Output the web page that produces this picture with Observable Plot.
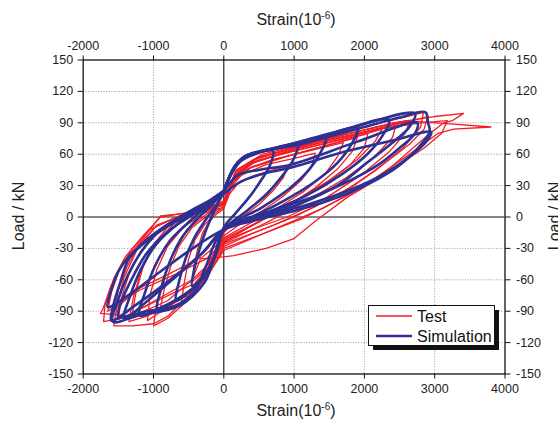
<!DOCTYPE html>
<html><head><meta charset="utf-8">
<script src="https://cdn.jsdelivr.net/npm/d3@7"></script>
<script src="https://cdn.jsdelivr.net/npm/@observablehq/plot@0.6"></script>
<style>
html,body{margin:0;padding:0;background:#fff;}
#chart{position:relative;width:558px;height:424px;overflow:hidden;}
</style></head><body><div id="chart"></div>
<script>
// ---- data ----
const xTicks = [-2000, -1000, 0, 1000, 2000, 3000, 4000];
const yTicks = [-150, -120, -90, -60, -30, 0, 30, 60, 90, 120, 150];
const seriesNames = ["Test", "Simulation"];
const xTitle = "Strain(10";
const xTitleSup = "-6";
const yTitle = "Load / kN";

// Test hysteresis loops: [strain (1e-6), load (kN)]
const testLoops = [
  [[0,8],[80,22],[200,32],[450,40],[700,45],[900,48],[850,38],[700,25],[500,12],[300,2],[100,-8],[0,-15],[-100,-28],[-200,-42],[-320,-54],[-450,-62],[-420,-45],[-370,-30],[-300,-15],[-200,-4],[-100,3],[0,8]],
  [[0,10],[100,28],[250,40],[600,50],[1000,56],[1300,61],[1250,48],[1100,35],[850,20],[550,6],[250,-6],[0,-18],[-120,-34],[-250,-52],[-420,-68],[-560,-82],[-600,-80],[-560,-62],[-500,-40],[-410,-22],[-280,-8],[-130,3],[0,10]],
  [[0,10],[120,32],[300,45],[700,55],[1200,63],[1700,71],[1620,58],[1450,42],[1150,25],[800,10],[400,-5],[0,-20],[-150,-40],[-300,-58],[-550,-75],[-860,-88],[-900,-86],[-850,-70],[-760,-48],[-640,-28],[-450,-10],[-220,2],[0,10]],
  [[0,12],[130,36],[350,50],[800,60],[1500,71],[2050,80],[2000,66],[1800,50],[1450,32],[1000,14],[500,-5],[0,-22],[-160,-42],[-350,-62],[-650,-80],[-1000,-95],[-1085,-99],[-1050,-75],[-950,-50],[-800,-28],[-580,-10],[-300,3],[0,12]],
  [[0,12],[140,38],[400,52],[1000,65],[1800,78],[2450,88],[2400,76],[2150,58],[1750,38],[1250,18],[650,-4],[0,-25],[-180,-46],[-400,-66],[-800,-85],[-1100,-95],[-1350,-100],[-1290,-78],[-1180,-52],[-1020,-28],[-780,-8],[-400,4],[0,12]],
  [[0,14],[150,40],[450,55],[1200,70],[2100,88],[2600,96],[2840,100],[2800,86],[2550,66],[2150,44],[1650,22],[1000,0],[400,-16],[0,-28],[-200,-50],[-500,-75],[-800,-95],[-1000,-102],[-1300,-104],[-1565,-104],[-1520,-85],[-1420,-58],[-1240,-32],[-960,-8],[-500,4],[0,14]],
  [[0,14],[160,42],[500,57],[1400,73],[2300,85],[2800,90],[3180,92],[3100,80],[2850,66],[2400,46],[1800,22],[1100,-2],[400,-20],[0,-30],[-220,-55],[-500,-75],[-1100,-92],[-1710,-100],[-1690,-84],[-1560,-58],[-1400,-38],[-1150,-18],[-900,0],[-450,5],[0,14]],
  [[0,15],[170,44],[520,58],[1500,75],[2400,90],[3000,96],[3410,99],[3250,92],[3130,90],[2900,78],[2370,47],[1990,28],[1760,19],[1300,-4],[990,-21],[600,-30],[140,-37],[0,-38],[-330,-40],[-450,-60],[-800,-80],[-1300,-95],[-1755,-92],[-1720,-88],[-1600,-65],[-1420,-42],[-1140,-20],[-900,1],[-475,4],[0,9]],
  [[0,16],[180,45],[550,60],[1600,77],[2600,92],[3000,90],[3225,89],[3800,86],[3270,84],[3050,80],[2600,58],[2000,30],[1400,8],[700,-12],[0,-32],[-250,-58],[-550,-82],[-800,-97],[-1000,-104],[-960,-85],[-870,-60],[-720,-35],[-520,-12],[-260,2],[0,16]],
  [[0,12],[150,36],[400,48],[1000,60],[1700,73],[2250,84],[2150,72],[1900,55],[1500,35],[1000,15],[500,-4],[0,-24],[-250,-40],[-700,-55],[-1200,-70],[-1650,-90],[-1600,-72],[-1480,-50],[-1300,-30],[-1050,-12],[-600,2],[0,12]],
  [[0,14],[160,40],[480,54],[1300,68],[2200,84],[2900,96],[2850,84],[2650,70],[2300,52],[1850,30],[1300,10],[700,-8],[0,-26],[-220,-48],[-420,-64],[-700,-72],[-1100,-85],[-1500,-98],[-1460,-78],[-1350,-55],[-1180,-33],[-900,-12],[-450,3],[0,14]],
  [[0,13],[150,38],[420,52],[1100,66],[1900,80],[2650,92],[2580,80],[2350,62],[1950,40],[1450,18],[900,0],[400,-12],[0,-23],[-200,-44],[-450,-60],[-850,-75],[-1300,-92],[-1250,-72],[-1150,-48],[-980,-25],[-700,-6],[-350,5],[0,13]],
  [[0,11],[140,34],[380,47],[900,58],[1400,67],[1900,76],[1830,63],[1620,46],[1300,28],[900,10],[450,-6],[0,-21],[-300,-38],[-800,-55],[-1200,-68],[-1550,-88],[-1500,-70],[-1380,-48],[-1200,-26],[-950,-8],[-550,3],[0,11]]
];

// Simulation hysteresis loops: [strain (1e-6), load (kN)]
const simLoops = [
  [[0,24],[100,40],[220,52],[400,59],[700,63],[660,50],[540,36],[350,18],[160,3],[0,-10],[-80,-28],[-170,-44],[-280,-56],[-450,-66],[-420,-50],[-350,-32],[-250,-12],[-120,8],[0,24]],
  [[0,25],[120,43],[260,55],[500,62],[800,66],[1050,69],[990,55],[840,40],[610,22],[330,6],[0,-12],[-100,-31],[-200,-48],[-330,-61],[-500,-72],[-680,-80],[-630,-60],[-545,-40],[-420,-20],[-250,-2],[-100,12],[0,25]],
  [[0,25],[130,45],[280,57],[600,64],[1000,69],[1450,76],[1380,62],[1210,45],[930,27],[540,9],[0,-12],[-110,-35],[-230,-53],[-400,-66],[-650,-78],[-940,-88],[-880,-66],[-770,-43],[-600,-20],[-380,-2],[-150,13],[0,25]],
  [[0,25],[140,46],[300,58],[650,65],[1300,75],[1900,85],[1820,70],[1620,52],[1280,33],[840,15],[400,0],[0,-12],[-120,-36],[-260,-55],[-500,-72],[-850,-85],[-1200,-94],[-1120,-72],[-980,-47],[-770,-23],[-500,-5],[-220,11],[0,25]],
  [[0,25],[150,47],[310,58],[700,65],[1500,79],[2350,93],[2260,78],[2040,60],[1660,40],[1160,20],[600,4],[0,-12],[-300,-34],[-700,-58],[-1050,-78],[-1420,-97],[-1330,-75],[-1180,-50],[-960,-26],[-660,-7],[-300,10],[0,25]],
  [[0,25],[150,48],[300,58],[700,65],[1700,83],[2720,99],[2640,86],[2380,70],[2040,52],[1660,32],[1100,13],[500,0],[0,-12],[-140,-40],[-270,-62],[-640,-85],[-1210,-94],[-1580,-100],[-1510,-80],[-1360,-55],[-1140,-30],[-860,-10],[-450,5],[0,25]],
  [[0,25],[160,49],[300,58],[700,65],[1000,68],[1500,77],[2000,86],[2500,95],[2870,100],[2905,90],[2930,82],[2840,72],[2510,50],[2040,31],[1420,14],[950,5],[400,-4],[0,-12],[-300,-34],[-800,-62],[-1250,-84],[-1600,-99],[-1570,-84],[-1470,-62],[-1350,-40],[-1010,-17],[-500,5],[0,22]],
  [[0,22],[250,34],[600,42],[950,47],[1700,62],[2400,73],[2950,81],[2880,72],[2650,58],[2300,42],[1800,26],[1200,12],[600,1],[0,-12],[-400,-28],[-900,-52],[-1300,-72],[-1650,-86],[-1610,-72],[-1500,-52],[-1350,-38],[-1000,-18],[-500,3],[0,22]],
  [[0,24],[200,40],[500,45],[950,50],[1900,72],[2750,90],[2720,80],[2500,66],[2200,50],[1800,35],[1300,20],[700,6],[0,-12],[-260,-48],[-400,-70],[-700,-85],[-1100,-90],[-1500,-95],[-1450,-80],[-1300,-58],[-1100,-35],[-800,-14],[-400,4],[0,24]]
];

// ---- styles ----
const RED = "#f21d26";
const BLUE = "#2e3192";
const FONT = "'Liberation Sans', Arial, Helvetica, sans-serif";

function toRows(loops) {
  return loops.flatMap((loop, i) => loop.map(([strain, load]) => ({loop: i, strain, load})));
}
const testRows = toRows(testLoops);
const simRows = toRows(simLoops);

const gridX = xTicks.filter(d => d !== 0 && d !== xTicks[0] && d !== xTicks[xTicks.length - 1]);
const gridY = yTicks.filter(d => d !== 0 && d !== yTicks[0] && d !== yTicks[yTicks.length - 1]);
const fmt = d => String(d);

const W = 558, H = 424;
const chart = Plot.plot({
  width: W, height: H,
  marginLeft: 82.7, marginRight: 53.5, marginTop: 59.5, marginBottom: 50.5,
  style: {fontFamily: FONT, fontSize: "12.5px", color: "#222", background: "#fff", overflow: "hidden"},
  x: {domain: [xTicks[0], xTicks[xTicks.length - 1]]},
  y: {domain: [yTicks[0], yTicks[yTicks.length - 1]]},
  marks: [
    Plot.gridX(gridX, {stroke: "#9a9a9a", strokeOpacity: 1, strokeWidth: 1, strokeDasharray: "1,1.6"}),
    Plot.gridY(gridY, {stroke: "#9a9a9a", strokeOpacity: 1, strokeWidth: 1, strokeDasharray: "1,1.6"}),
    Plot.ruleX([0], {stroke: "#111", strokeWidth: 1.1}),
    Plot.ruleY([0], {stroke: "#111", strokeWidth: 1.1}),
    Plot.line(testRows, {x: "strain", y: "load", z: "loop", stroke: RED, strokeWidth: 1.3, curve: "linear"}),
    Plot.line(simRows, {x: "strain", y: "load", z: "loop", stroke: BLUE, strokeWidth: 2.6, curve: "catmull-rom"}),
    Plot.frame({stroke: "#111", strokeWidth: 1.3}),
    Plot.axisX(xTicks, {anchor: "bottom", tickSize: 5, tickPadding: 5, tickFormat: fmt, label: null, stroke: "#111"}),
    Plot.axisX(xTicks, {anchor: "top", tickSize: 5, tickPadding: 5, tickFormat: fmt, label: null, stroke: "#111"}),
    Plot.axisY(yTicks, {anchor: "left", tickSize: 5, tickPadding: 5, tickFormat: fmt, label: null, stroke: "#111"}),
    Plot.axisY(yTicks, {anchor: "right", tickSize: 5, tickPadding: 6, tickFormat: fmt, label: null, stroke: "#111"})
  ]
});
document.getElementById("chart").appendChild(chart);

// ---- titles and legend ----
const svg = d3.select(chart);
const titleSize = 16;
function xTitleAt(y) {
  const t = svg.append("text").attr("x", 296).attr("y", y).attr("text-anchor", "middle")
    .attr("font-family", FONT).attr("font-size", titleSize).attr("fill", "#222");
  t.append("tspan").text(xTitle);
  t.append("tspan").attr("dy", -6).attr("font-size", 10).text(xTitleSup);
  t.append("tspan").attr("dy", 6).text(")");
}
xTitleAt(25);
xTitleAt(416);
function yTitleAt(x) {
  svg.append("text").attr("transform", `translate(${x},216) rotate(-90)`).attr("text-anchor", "middle")
    .attr("font-family", FONT).attr("font-size", titleSize).attr("fill", "#222").text(yTitle);
}
yTitleAt(24);
yTitleAt(560);

const lg = svg.append("g");
lg.append("rect").attr("x", 373).attr("y", 310).attr("width", 126).attr("height", 40).attr("fill", "#111");
lg.append("rect").attr("x", 368.5).attr("y", 305.5).attr("width", 126).attr("height", 40).attr("fill", "#fff").attr("stroke", "#111").attr("stroke-width", 1);
const legendColors = [RED, BLUE];
const legendWidths = [1.3, 2.6];
seriesNames.forEach((name, i) => {
  const cy = 316 + i * 20;
  lg.append("line").attr("x1", 376).attr("x2", 412).attr("y1", cy).attr("y2", cy)
    .attr("stroke", legendColors[i]).attr("stroke-width", legendWidths[i]);
  lg.append("text").attr("x", 417).attr("y", cy + 5.5).attr("text-anchor", "start")
    .attr("font-family", FONT).attr("font-size", 16).attr("fill", "#111").text(name);
});
</script>
</body></html>
